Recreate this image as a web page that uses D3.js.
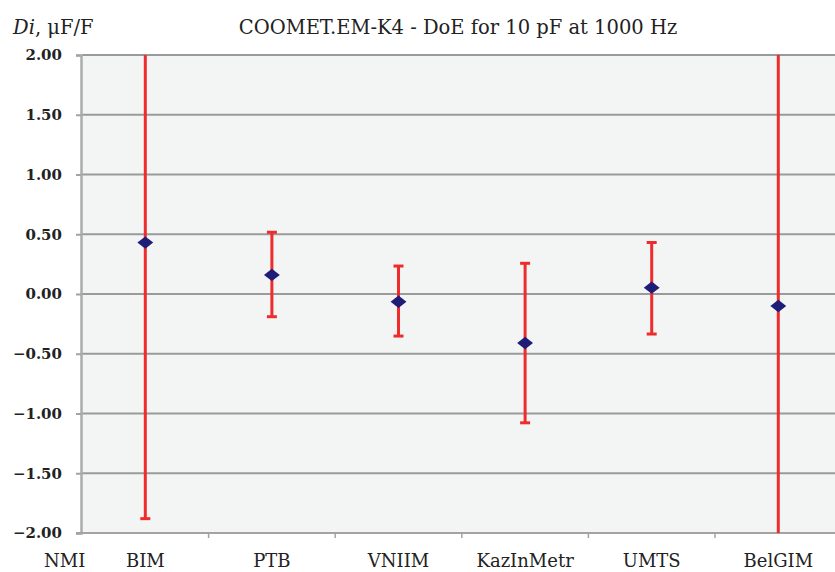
<!DOCTYPE html>
<html><head><meta charset="utf-8">
<script src="https://cdn.jsdelivr.net/npm/d3@7"></script>
<style>body{margin:0;background:#fff}svg{display:block}</style>
</head><body>
<script>
const categories = ["BIM","PTB","VNIIM","KazInMetr","UMTS","BelGIM"];
const values = [0.43, 0.16, -0.065, -0.41, 0.053, -0.10];
const lowers = [-1.88, -0.19, -0.352, -1.078, -0.335, -3.0];
const uppers = [2.74, 0.516, 0.234, 0.257, 0.43, 2.8];
const yTicks = [2.0,1.5,1.0,0.5,0.0,-0.5,-1.0,-1.5,-2.0];
const titleText = "COOMET.EM-K4 - DoE for 10 pF at 1000 Hz";

const W=835,H=572;
const svg=d3.select("body").append("svg").attr("width",W).attr("height",H);
const m={left:82,top:55,bottom:533,right:841.6};
const x=d3.scaleBand().domain(categories).range([m.left,m.right]);
const y=d3.scaleLinear().domain([-2,2]).range([m.bottom,m.top]);
const serif="'DejaVu Serif','Liberation Serif',serif";

svg.append("defs").append("clipPath").attr("id","clip").append("rect")
  .attr("x",m.left).attr("y",m.top).attr("width",m.right-m.left).attr("height",m.bottom-m.top);

svg.append("rect").attr("x",m.left).attr("y",m.top).attr("width",m.right-m.left)
  .attr("height",m.bottom-m.top).attr("fill","#f3f5f5");

// gridlines
svg.append("g").selectAll("line").data(yTicks).join("line")
  .attr("x1",m.left).attr("x2",m.right).attr("y1",d=>y(d)).attr("y2",d=>y(d))
  .attr("stroke","#9a9a9a").attr("stroke-width",2);

// y axis
const ya=svg.append("g").attr("transform",`translate(${m.left-1},0)`)
  .call(d3.axisLeft(y).tickValues(yTicks).tickFormat(d3.format(".2f")).tickSize(5).tickPadding(14));
ya.select(".domain").attr("stroke","#acacac").attr("stroke-width",2.5);
ya.selectAll(".tick line").attr("stroke","#a3a3a3").attr("stroke-width",2);
ya.selectAll("text").attr("font-family",serif).attr("font-weight","bold").attr("font-size",15).attr("fill","#222");

// x axis
const xa=svg.append("g").attr("transform",`translate(0,${m.bottom})`)
  .call(d3.axisBottom(x).tickSize(0).tickPadding(21));
xa.select(".domain").remove();
xa.selectAll("text").attr("font-family",serif).attr("font-size",18).attr("fill","#222");
svg.append("g").selectAll("line").data(categories.slice(1)).join("line")
  .attr("x1",d=>x(d)).attr("x2",d=>x(d)).attr("y1",m.bottom).attr("y2",m.bottom+5)
  .attr("stroke","#a3a3a3").attr("stroke-width",1.5);
svg.append("line").attr("x1",m.left-6).attr("x2",m.right).attr("y1",m.bottom).attr("y2",m.bottom)
  .attr("stroke","#a3a3a3").attr("stroke-width",2);

// error bars
const eb=svg.append("g").attr("clip-path","url(#clip)");
const cx=d=>x(d)+x.bandwidth()/2;
const capW=5;
categories.forEach((c,i)=>{
  eb.append("line").attr("x1",cx(c)).attr("x2",cx(c)).attr("y1",y(lowers[i])).attr("y2",y(uppers[i]))
    .attr("stroke","#ef2b2b").attr("stroke-width",3);
  [lowers[i],uppers[i]].forEach(v=>{
    eb.append("line").attr("x1",cx(c)-capW).attr("x2",cx(c)+capW).attr("y1",y(v)).attr("y2",y(v))
      .attr("stroke","#ef2b2b").attr("stroke-width",3);
  });
});
// markers
svg.append("g").selectAll("path").data(categories).join("path")
  .attr("d",d3.symbol(d3.symbolDiamond2,160))
  .attr("transform",(d,i)=>`translate(${cx(d)},${y(values[i])}) scale(1,0.78)`)
  .attr("fill","#1e1e78");

// title
svg.append("text").attr("x",458).attr("y",34).attr("text-anchor","middle")
  .attr("font-family",serif).attr("font-size",19.5).attr("fill","#222").text(titleText);
// y label
const yl=svg.append("text").attr("x",13).attr("y",34).attr("font-family",serif).attr("font-size",19.5).attr("fill","#222");
yl.append("tspan").attr("font-style","italic").text("Di");
yl.append("tspan").text(", μF/F");
// NMI
svg.append("text").attr("x",44).attr("y",567).attr("font-family",serif).attr("font-size",18).attr("fill","#222").text("NMI");
</script>
</body></html>
